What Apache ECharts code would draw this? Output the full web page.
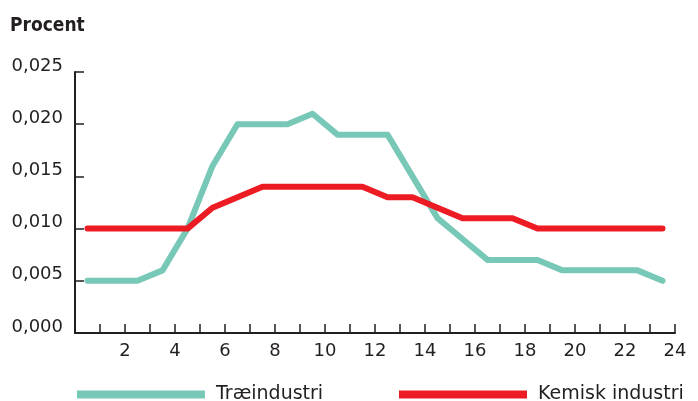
<!DOCTYPE html>
<html>
<head>
<meta charset="utf-8">
<script src="https://cdn.jsdelivr.net/npm/echarts@6/dist/echarts.min.js"></script>
<style>
  html, body { margin: 0; padding: 0; background: #fff; }
  #chart { width: 698px; height: 401px; }
</style>
</head>
<body>
<div id="chart"></div>
<script>
// Hours (midpoint of each hour interval)
const hours = [0.5, 1.5, 2.5, 3.5, 4.5, 5.5, 6.5, 7.5, 8.5, 9.5, 10.5, 11.5,
               12.5, 13.5, 14.5, 15.5, 16.5, 17.5, 18.5, 19.5, 20.5, 21.5, 22.5, 23.5];
const traeindustri = [0.005, 0.005, 0.005, 0.006, 0.010, 0.016, 0.020, 0.020, 0.020, 0.021, 0.019, 0.019,
                      0.019, 0.015, 0.011, 0.009, 0.007, 0.007, 0.007, 0.006, 0.006, 0.006, 0.006, 0.005];
const kemisk = [0.010, 0.010, 0.010, 0.010, 0.010, 0.012, 0.013, 0.014, 0.014, 0.014, 0.014, 0.014,
                0.013, 0.013, 0.012, 0.011, 0.011, 0.011, 0.010, 0.010, 0.010, 0.010, 0.010, 0.010];
const seriesNames = ['Træindustri', 'Kemisk industri'];
const yTicks = [0, 0.005, 0.010, 0.015, 0.020, 0.025];

const GREEN = '#77c8b6';
const RED = '#ed1c24';
const INK = '#231f20';
const FONT = '"DejaVu Sans", sans-serif';
const TITLE_FONT = '"DejaVu Sans Condensed", "DejaVu Sans", sans-serif';

const pairs = (xs, ys) => xs.map((x, i) => [x, ys[i]]);

const legendBase = {
  icon: 'rect', itemWidth: 128, itemHeight: 8, itemGap: 0, padding: 0,
  textStyle: { fontFamily: FONT, fontSize: 19, color: INK, padding: [0, 0, 8, 6] }
};

const chart = echarts.init(document.getElementById('chart'), null, { renderer: 'canvas' });
chart.setOption({
  animation: false,
  textStyle: { fontFamily: FONT, color: INK },
  title: {
    text: 'Procent',
    left: 5, top: 12,
    textStyle: { fontFamily: TITLE_FONT, fontSize: 19, fontWeight: 'bold', color: INK }
  },
  grid: { left: 75, right: 23, top: 72, bottom: 68, containLabel: false },
  legend: [
    Object.assign({ data: [seriesNames[0]], left: 77, top: 385 }, legendBase),
    Object.assign({ data: [seriesNames[1]], left: 399, top: 385 }, legendBase)
  ],
  xAxis: {
    type: 'value', min: 0, max: 24, interval: 1,
    axisLine: { show: true, lineStyle: { color: INK, width: 2 } },
    axisTick: { show: true, inside: true, length: 9, lineStyle: { color: INK, width: 1.5 } },
    splitLine: { show: false },
    axisLabel: {
      fontFamily: FONT, fontSize: 18, color: INK, margin: 9,
      formatter: v => (v > 0 && v % 2 === 0) ? String(v) : ''
    }
  },
  yAxis: {
    type: 'value', min: yTicks[0], max: yTicks[yTicks.length - 1], interval: 0.005,
    axisLine: { show: true, lineStyle: { color: INK, width: 2 } },
    axisTick: { show: true, inside: true, length: 9, lineStyle: { color: INK, width: 1.5 } },
    splitLine: { show: false },
    axisLabel: {
      fontFamily: FONT, fontSize: 18, color: INK, margin: 12,
      verticalAlign: 'bottom', lineHeight: 12,
      formatter: v => v.toFixed(3).replace('.', ',')
    }
  },
  series: [
    {
      name: seriesNames[0], type: 'line', data: pairs(hours, traeindustri),
      showSymbol: false, symbol: 'none', color: GREEN,
      lineStyle: { color: GREEN, width: 6, cap: 'round', join: 'round' }
    },
    {
      name: seriesNames[1], type: 'line', data: pairs(hours, kemisk),
      showSymbol: false, symbol: 'none', color: RED,
      lineStyle: { color: RED, width: 6, cap: 'round', join: 'round' }
    }
  ]
});
</script>
</body>
</html>
